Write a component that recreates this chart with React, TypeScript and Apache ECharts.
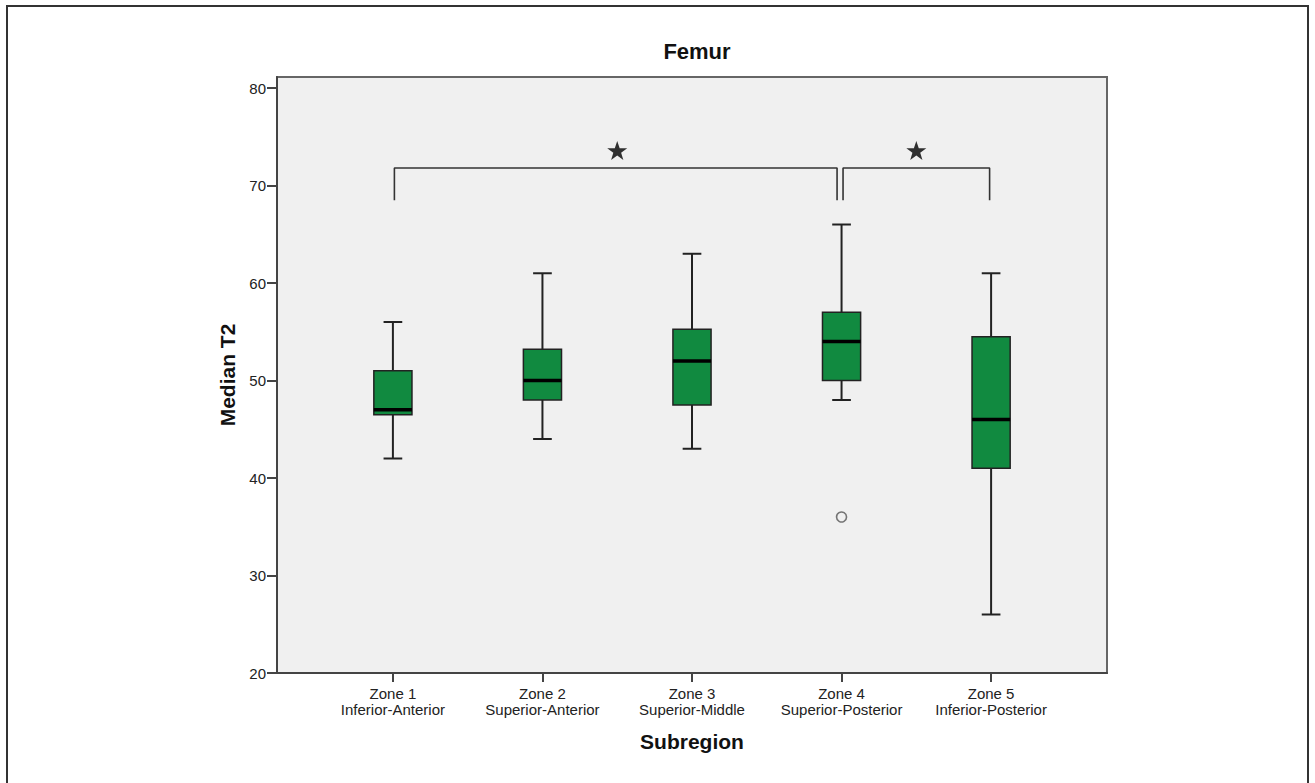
import React, { useEffect, useRef } from "react";
import * as echarts from "echarts";

// ---- Data ----
const zoneNames = ["Zone 1", "Zone 2", "Zone 3", "Zone 4", "Zone 5"];
const subregionNames = [
  "Inferior-Anterior",
  "Superior-Anterior",
  "Superior-Middle",
  "Superior-Posterior",
  "Inferior-Posterior",
];
const zonePositions = [1, 2, 3, 4, 5];
const lowWhisker = [42, 44, 43, 48, 26];
const q1Values = [46.5, 48, 47.5, 50, 41];
const medianValues = [47, 50, 52, 54, 46];
const q3Values = [51, 53.2, 55.25, 57, 54.5];
const highWhisker = [56, 61, 63, 66, 61];
const outliers: [number, number][] = [[4, 36]];
const yTicks = [20, 30, 40, 50, 60, 70, 80];
// significance brackets (zone position, value)
const bracketA: [number, number][] = [[1.01, 68.5], [1.01, 71.8], [3.97, 71.8], [3.97, 68.5]];
const bracketB: [number, number][] = [[4.01, 68.5], [4.01, 71.8], [4.99, 71.8], [4.99, 68.5]];
const stars: [number, number][] = [[2.5, 73.6], [4.5, 73.6]];

const FONT = "'Liberation Sans', Arial, Helvetica, sans-serif";
const STAR_PATH =
  "path://M50,0 L61.8,35.1 L98.1,35.1 L68.8,56.8 L79.4,91.9 L50,70 L20.6,91.9 L31.2,56.8 L1.9,35.1 L38.2,35.1 Z";

export default function App() {
  const ref = useRef<HTMLDivElement | null>(null);

  useEffect(() => {
    document.body.style.margin = "0";
    if (!ref.current) return;
    const chart = echarts.init(ref.current, undefined, { renderer: "svg" });

    const boxData = zonePositions.map((p, i) => [
      p,
      lowWhisker[i],
      q1Values[i],
      medianValues[i],
      q3Values[i],
      highWhisker[i],
    ]);

    const option: any = {
      animation: false,
      backgroundColor: "#ffffff",
      title: {
        text: "Femur",
        left: 692,
        top: 35,
        textAlign: "center",
        textStyle: { fontFamily: FONT, fontSize: 22, fontWeight: "bold", color: "#111" },
      },
      graphic: [
        {
          type: "rect",
          shape: { x: 7, y: 6, width: 1301, height: 800 },
          style: { fill: "none", stroke: "#333", lineWidth: 2 },
          silent: true,
        },
      ],
      grid: {
        left: 277,
        top: 77,
        right: 208,
        bottom: 110,
        show: true,
        backgroundColor: "#f0f0f0",
        borderColor: "#666",
        borderWidth: 2,
      },
      xAxis: {
        type: "value",
        min: 0.225,
        max: 5.775,
        splitLine: { show: false },
        axisLine: { show: true, onZero: false, lineStyle: { color: "#444", width: 2 } },
        axisTick: {
          show: true,
          length: 9,
          customValues: zonePositions,
          lineStyle: { color: "#444", width: 2 },
        },
        axisLabel: {
          customValues: zonePositions,
          margin: 12,
          fontFamily: FONT,
          fontSize: 15,
          lineHeight: 16,
          color: "#222",
          formatter: (v: number) => {
            const i = Math.round(v) - 1;
            return zoneNames[i] + "\n" + subregionNames[i];
          },
        },
        name: "Subregion",
        nameLocation: "middle",
        nameGap: 58,
        nameTextStyle: { fontFamily: FONT, fontSize: 21, fontWeight: "bold", color: "#111" },
      },
      yAxis: {
        type: "value",
        min: 20,
        max: 81.13,
        splitLine: { show: false },
        axisLine: { show: true, onZero: false, lineStyle: { color: "#444", width: 2 } },
        axisTick: {
          show: true,
          length: 10,
          customValues: yTicks,
          lineStyle: { color: "#444", width: 2 },
        },
        axisLabel: {
          customValues: yTicks,
          margin: 11,
          fontFamily: FONT,
          fontSize: 15,
          color: "#222",
        },
        name: "Median T2",
        nameLocation: "middle",
        nameGap: 38,
        nameTextStyle: { fontFamily: FONT, fontSize: 21, fontWeight: "bold", color: "#111" },
      },
      series: [
        {
          type: "custom",
          data: boxData,
          encode: { x: 0, y: [1, 2, 3, 4, 5] },
          renderItem: (params: any, api: any) => {
            const x = api.value(0);
            const pLo = api.coord([x, api.value(1)]);
            const pQ1 = api.coord([x, api.value(2)]);
            const pMed = api.coord([x, api.value(3)]);
            const pQ3 = api.coord([x, api.value(4)]);
            const pHi = api.coord([x, api.value(5)]);
            const unit = api.size([1, 0])[0];
            const bw = unit * 0.255;
            const cw = unit * 0.125;
            const cx = pMed[0];
            const stroke = "#222";
            return {
              type: "group",
              children: [
                { type: "line", shape: { x1: cx, y1: pHi[1], x2: cx, y2: pQ3[1] }, style: { stroke, lineWidth: 2 } },
                { type: "line", shape: { x1: cx, y1: pLo[1], x2: cx, y2: pQ1[1] }, style: { stroke, lineWidth: 2 } },
                { type: "line", shape: { x1: cx - cw / 2, y1: pHi[1], x2: cx + cw / 2, y2: pHi[1] }, style: { stroke, lineWidth: 2 } },
                { type: "line", shape: { x1: cx - cw / 2, y1: pLo[1], x2: cx + cw / 2, y2: pLo[1] }, style: { stroke, lineWidth: 2 } },
                {
                  type: "rect",
                  shape: { x: cx - bw / 2, y: pQ3[1], width: bw, height: pQ1[1] - pQ3[1] },
                  style: { fill: "#118a40", stroke, lineWidth: 1.5 },
                },
                {
                  type: "line",
                  shape: { x1: cx - bw / 2, y1: pMed[1], x2: cx + bw / 2, y2: pMed[1] },
                  style: { stroke: "#000", lineWidth: 3.5 },
                },
              ],
            };
          },
          z: 3,
        },
        {
          type: "scatter",
          data: outliers,
          symbol: "circle",
          symbolSize: 10,
          itemStyle: { color: "#f0f0f0", borderColor: "#555", borderWidth: 1.6 },
          z: 4,
        },
        {
          type: "line",
          data: bracketA,
          symbol: "none",
          lineStyle: { color: "#333", width: 1.6 },
          z: 2,
        },
        {
          type: "line",
          data: bracketB,
          symbol: "none",
          lineStyle: { color: "#333", width: 1.6 },
          z: 2,
        },
        {
          type: "scatter",
          data: stars,
          symbol: STAR_PATH,
          symbolSize: [20, 19],
          itemStyle: { color: "#000" },
          z: 4,
        },
      ],
    };

    chart.setOption(option);
    return () => chart.dispose();
  }, []);

  return <div ref={ref} style={{ width: 1315, height: 783 }} />;
}
